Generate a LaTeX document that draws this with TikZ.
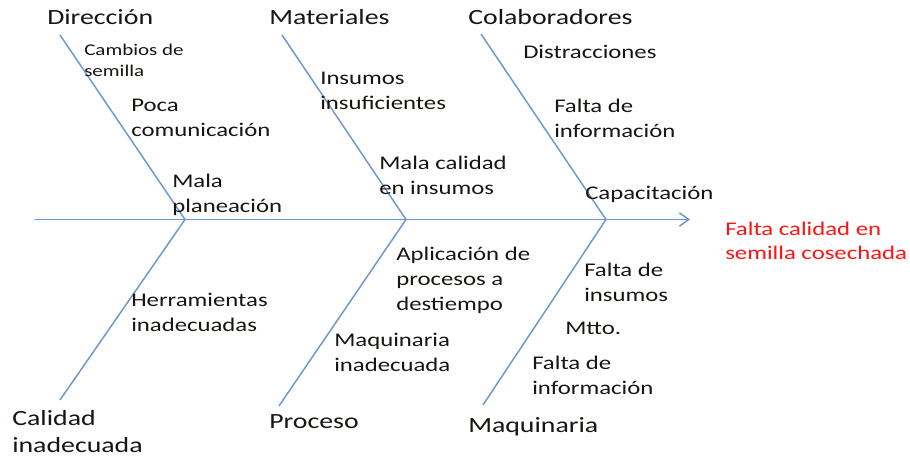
\documentclass[tikz,border=0pt]{standalone}
\usepackage{fontspec}
\setmainfont{Carlito}[FakeStretch=1.28]
\usetikzlibrary{arrows.meta}
\definecolor{bone}{RGB}{110,150,205}
\definecolor{effred}{RGB}{255,20,20}
\definecolor{txt}{RGB}{25,20,15}
\tikzset{
  bone line/.style={draw=bone, line width=1.1pt},
  head/.style={anchor=base west, inner sep=0pt, align=left, text=txt, font=\fontsize{16.3pt}{20.25pt}\selectfont},
  cause/.style={anchor=base west, inner sep=0pt, align=left, text=txt, font=\fontsize{14.5pt}{18.75pt}\selectfont},
  small cause/.style={anchor=base west, inner sep=0pt, align=left, text=txt, font=\fontsize{12.3pt}{15.75pt}\selectfont},
  effect/.style={anchor=base west, inner sep=0pt, align=left, text=effred, font=\fontsize{14.5pt}{18pt}\selectfont},
}
\begin{document}
\begin{tikzpicture}[x=0.75pt,y=-0.75pt]
\path[use as bounding box] (0,0) rectangle (910,459);
% spine
\coordinate (tail) at (35,219.5);
\coordinate (tip) at (690,219.5);
\coordinate (j1) at (185,219.5);
\coordinate (j2) at (406,219.5);
\coordinate (j3) at (606,219.5);
\coordinate (u1) at (60,35);
\coordinate (u2) at (282,35);
\coordinate (u3) at (481,34);
\coordinate (d1) at (60,400);
\coordinate (d2) at (279,406);
\coordinate (d3) at (483,405);
\draw[bone line, -{Straight Barb[length=7pt,width=10pt]}] (tail) -- (tip);
\draw[bone line] (u1) -- (j1) -- (d1);
\draw[bone line] (u2) -- (j2) -- (d2);
\draw[bone line] (u3) -- (j3) -- (d3);
% headers (anchor = baseline of the last line)
\node[head] (hdir) at (47,25) {Dirección};
\node[head] (hmat) at (269,25) {Materiales};
\node[head] (hcol) at (468,25) {Colaboradores};
\node[head] (hcal) at (12,452) {Calidad\\inadecuada};
\node[head] (hpro) at (269,428) {Proceso};
\node[head] (hmaq) at (468,432) {Maquinaria};
% causes
\node[small cause] (c1) at (84,77) {Cambios de\\semilla};
\node[cause] (c2) at (131,137) {Poca\\comunicación};
\node[cause] (c3) at (172,213) {Mala\\planeación};
\node[cause] (c4) at (320,110) {Insumos\\insuficientes};
\node[cause] (c5) at (379,195) {Mala calidad\\en insumos};
\node[cause] (c6) at (523,59) {Distracciones};
\node[cause] (c7) at (554,138) {Falta de\\información};
\node[cause] (c8) at (585,200) {Capacitación};
\node[cause] (c9) at (131,332) {Herramientas\\inadecuadas};
\node[cause] (c10) at (396,311) {Aplicación de\\procesos a\\destiempo};
\node[cause] (c11) at (334,372) {Maquinaria\\inadecuada};
\node[cause] (c12) at (584,302) {Falta de\\insumos};
\node[cause] (c13) at (565,335) {Mtto.};
\node[cause] (c14) at (532,395) {Falta de\\información};
% effect
\node[effect] (eff) at (725,260) {Falta calidad en\\semilla cosechada};
\end{tikzpicture}
\end{document}
